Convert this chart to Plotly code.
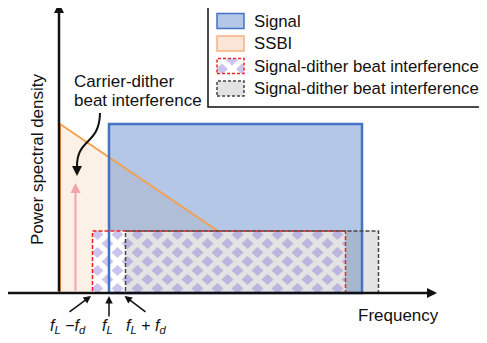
import numpy as np
import plotly.graph_objects as go

# ---------------- data (frequency / PSD, arbitrary units) ----------------
f_L = 5.0                      # laser (carrier) frequency
f_d = 1.65                     # dither frequency
signal_band = [5.0, 30.3]      # signal occupies f_L ... f_H
signal_level = 16.9
ssbi_freq = [0.1, 15.9]
ssbi_psd = [16.9, 6.2]
dither_level = 6.2             # signal-dither beat interference level
carrier_dither_level = 11.0    # carrier-dither beat tone height
legend_names = ["Signal", "SSBI",
                "Signal-dither beat interference",
                "Signal-dither beat interference"]
tick_labels = ["<i>f</i><sub><i>L</i></sub> −<i>f</i><sub><i>d</i></sub>",
               "<i>f</i><sub><i>L</i></sub>",
               "<i>f</i><sub><i>L</i></sub> + <i>f</i><sub><i>d</i></sub>"]
axis_titles = ["Frequency", "Power spectral density"]
callout_lines = ["Carrier-dither", "beat interference"]

# ---------------- geometry helpers ----------------
W, H = 487, 343
OFF = 8                         # page body margin
X0PX, Y0PX, SCALE = 59, 293, 10.0
def fx(px):
    return (px - X0PX) / SCALE
def py(pix):
    return (Y0PX - pix) / SCALE

x_range = [fx(OFF), fx(W)]
y_range = [py(H), py(OFF)]

FONT = "Liberation Sans, Arial, sans-serif"
TXT = "#111111"

def rect(x0, x1, y0, y1):
    return [x0, x1, x1, x0, x0], [y0, y0, y1, y1, y0]

def clip_poly(pts, x0, x1, y0, y1):
    def clip(points, inside, inter):
        out = []
        n = len(points)
        for k in range(n):
            cur, prev = points[k], points[k - 1]
            if inside(cur):
                if not inside(prev):
                    out.append(inter(prev, cur))
                out.append(cur)
            elif inside(prev):
                out.append(inter(prev, cur))
        return out
    def ix(xc):
        return lambda p, q: (xc, p[1] + (q[1] - p[1]) * (xc - p[0]) / (q[0] - p[0]))
    def iy(yc):
        return lambda p, q: (p[0] + (q[0] - p[0]) * (yc - p[1]) / (q[1] - p[1]), yc)
    for ins, it in [(lambda p: p[0] >= x0, ix(x0)), (lambda p: p[0] <= x1, ix(x1)),
                    (lambda p: p[1] >= y0, iy(y0)), (lambda p: p[1] <= y1, iy(y1))]:
        pts = clip(pts, ins, it)
        if not pts:
            return []
    return pts

# diamond pattern: checker lattice of diamonds (10 px x 9 px cells)
CX, CY, HX, HY = 1.0, 0.9, 0.6, 0.54
def diamond_pattern(x0, x1, y0, y1):
    xs, ys = [], []
    nx = int((x1 - x0) / CX) + 2
    ny = int((y1 - y0) / CY) + 2
    for j in range(-1, ny):
        for i in range(-1, nx):
            if (i + j) % 2:
                continue
            cx = x0 + CX / 2 + i * CX
            cy = y0 + CY / 2 + j * CY
            pts = [(cx + HX, cy), (cx, cy + HY), (cx - HX, cy), (cx, cy - HY)]
            pts = clip_poly(pts, x0, x1, y0, y1)
            if len(pts) < 3:
                continue
            for p in pts + [pts[0]]:
                xs.append(p[0]); ys.append(p[1])
            xs.append(None); ys.append(None)
    return xs, ys

PATTERN_COLOR = "rgba(140,125,215,0.45)"

lower = [signal_band[0] - f_d, signal_band[1] - f_d]
upper = [signal_band[0] + f_d, signal_band[1] + f_d]

fig = go.Figure()

# SSBI fill
sx = [ssbi_freq[0], ssbi_freq[0], ssbi_freq[1], ssbi_freq[1], ssbi_freq[0]]
sy = [0, ssbi_psd[0], ssbi_psd[1], 0, 0]
fig.add_trace(go.Scatter(x=sx, y=sy, fill="toself", fillcolor="#fbf1e6",
                         line=dict(width=0), mode="lines", hoverinfo="skip"))
# Signal fill (semi-transparent)
x, y = rect(signal_band[0], signal_band[1], 0, signal_level)
fig.add_trace(go.Scatter(x=x, y=y, fill="toself", fillcolor="rgba(68,114,196,0.40)",
                         line=dict(width=0), mode="lines", hoverinfo="skip"))
# lower sideband beat box (white background)
x, y = rect(lower[0], lower[1], 0, dither_level)
fig.add_trace(go.Scatter(x=x, y=y, fill="toself", fillcolor="white",
                         line=dict(width=0), mode="lines", hoverinfo="skip"))
# upper sideband beat box (gray)
x, y = rect(upper[0], upper[1], 0, dither_level)
fig.add_trace(go.Scatter(x=x, y=y, fill="toself", fillcolor="rgba(128,128,128,0.22)",
                         line=dict(width=0), mode="lines", hoverinfo="skip"))
# diamond pattern in lower beat box
dx, dy = diamond_pattern(lower[0], lower[1], 0, dither_level)
fig.add_trace(go.Scatter(x=dx, y=dy, fill="toself", fillcolor=PATTERN_COLOR,
                         mode="lines", line=dict(width=0), hoverinfo="skip"))
# SSBI edge line
fig.add_trace(go.Scatter(x=[ssbi_freq[0], ssbi_freq[0], ssbi_freq[1]],
                         y=[0, ssbi_psd[0], ssbi_psd[1]], mode="lines",
                         line=dict(color="#f4a04e", width=2), hoverinfo="skip"))
# Signal border
x, y = rect(signal_band[0], signal_band[1], 0, signal_level)
fig.add_trace(go.Scatter(x=x, y=y, mode="lines", line=dict(color="#4472c4", width=2.5),
                         hoverinfo="skip"))
# dashed borders
x, y = rect(lower[0], lower[1], 0, dither_level)
fig.add_trace(go.Scatter(x=x, y=y, mode="lines", hoverinfo="skip",
                         line=dict(color="#ee2222", width=1.5, dash="4px,2px")))
x, y = rect(upper[0], upper[1], 0, dither_level)
fig.add_trace(go.Scatter(x=x, y=y, mode="lines", hoverinfo="skip",
                         line=dict(color="#444444", width=1.5, dash="4px,2px")))

# ---------------- manual legend ----------------
shapes = []
shapes.append(dict(type="rect", xref="x", yref="y", x0=fx(208), x1=fx(485.5),
                   y0=py(107), y1=py(5), line=dict(color="#111", width=1.5),
                   fillcolor="white", layer="below"))
row_px = [21, 43.5, 66, 88.5]
sw_styles = [
    dict(fill="#b4c7e7", line="#4472c4", dash="solid"),
    dict(fill="#fbe5d6", line="#f4b183", dash="solid"),
    dict(fill="white", line="#ee2222", dash="3px,2px"),
    dict(fill="#e3e3e3", line="#444444", dash="3px,2px"),
]
annotations = []
for name, rp, st in zip(legend_names, row_px, sw_styles):
    shapes.append(dict(type="rect", xref="x", yref="y", x0=fx(217), x1=fx(244),
                       y0=py(rp + 7.5), y1=py(rp - 7.5),
                       line=dict(color=st["line"], width=1.5, dash=st["dash"]),
                       fillcolor=st["fill"], layer="below"))
    annotations.append(dict(x=fx(252), y=py(rp), text=name, showarrow=False,
                            xanchor="left", yanchor="middle", xref="x", yref="y",
                            font=dict(family=FONT, size=16.8, color=TXT)))
lx, ly = diamond_pattern(fx(217), fx(244), py(row_px[2] + 7.5), py(row_px[2] - 7.5))
fig.add_trace(go.Scatter(x=lx, y=ly, fill="toself", fillcolor=PATTERN_COLOR,
                         mode="lines", line=dict(width=0), hoverinfo="skip"))

# ---------------- axes arrows ----------------
arrow_common = dict(xref="x", yref="y", axref="x", ayref="y", text="", showarrow=True)
annotations.append(dict(x=fx(437), y=0, ax=fx(5), ay=0, arrowhead=2, arrowsize=0.8,
                        arrowwidth=2.5, arrowcolor="#111", **arrow_common))
annotations.append(dict(x=0, y=py(3), ax=0, ay=0, arrowhead=2, arrowsize=0.8,
                        arrowwidth=2.5, arrowcolor="#111", **arrow_common))
# carrier-dither tone
annotations.append(dict(x=f_d, y=carrier_dither_level, ax=f_d, ay=0, arrowhead=2,
                        arrowsize=1.0, arrowwidth=2, arrowcolor="#f4a3a8", **arrow_common))
# marker arrows under the axis
tips = [lower[0] - 0.15, f_L, upper[0] - 0.1]
tails_px = [(68, 313), (X0PX + SCALE * f_L, 318), (147, 313)]
for t, (tx, ty) in zip(tips, tails_px):
    annotations.append(dict(x=t, y=py(296), ax=fx(tx), ay=py(ty), arrowhead=2,
                            arrowsize=1.0, arrowwidth=1.5, arrowcolor="#111",
                            **arrow_common))
label_px = [67.5, 107.5, 145.5]
for lab, lp in zip(tick_labels, label_px):
    annotations.append(dict(x=fx(lp), y=py(326), text=lab, showarrow=False,
                            xanchor="center", yanchor="middle", xref="x", yref="y",
                            font=dict(family=FONT, size=16, color=TXT)))
# axis titles
annotations.append(dict(x=fx(398), y=py(315), text=axis_titles[0], showarrow=False,
                        xanchor="center", yanchor="middle", xref="x", yref="y",
                        font=dict(family=FONT, size=17, color=TXT)))
annotations.append(dict(x=fx(37), y=py(159), text=axis_titles[1], showarrow=False,
                        textangle=-90, xanchor="center", yanchor="middle",
                        xref="x", yref="y", font=dict(family=FONT, size=17, color=TXT)))
# callout text
for line_txt, lpy in zip(callout_lines, [81, 100]):
    annotations.append(dict(x=fx(72), y=py(lpy), text=line_txt, showarrow=False,
                            xanchor="left", yanchor="middle", xref="x", yref="y",
                            font=dict(family=FONT, size=17, color=TXT)))
# curved callout arrow
path = "M {},{} C {},{} {},{} {},{}".format(fx(100), py(113), fx(99.5), py(145),
                                            fx(77), py(138), fx(77), py(166))
shapes.append(dict(type="path", xref="x", yref="y", path=path,
                   line=dict(color="#111", width=2), layer="above"))
annotations.append(dict(x=fx(77), y=py(176), ax=fx(77), ay=py(165), arrowhead=2,
                        arrowsize=1.0, arrowwidth=2, arrowcolor="#111", **arrow_common))

for tr in fig.data:
    tr.showlegend = False

fig.update_layout(
    width=W - OFF, height=H - OFF, margin=dict(l=0, r=0, t=0, b=0),
    paper_bgcolor="white", plot_bgcolor="white",
    xaxis=dict(range=x_range, visible=False, fixedrange=True),
    yaxis=dict(range=y_range, visible=False, fixedrange=True),
    shapes=shapes, annotations=annotations, showlegend=False,
)
fig.write_html("out.html")
